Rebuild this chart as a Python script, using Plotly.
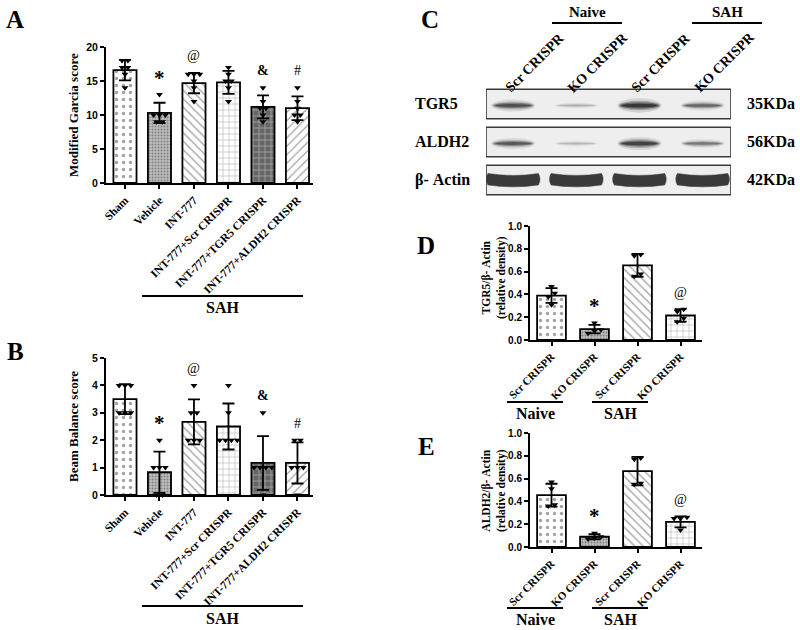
import plotly.graph_objects as go

SERIF = "Liberation Serif, Times New Roman, serif"
SANS = "Liberation Sans, Arial, sans-serif"

# ---- panel A / B data (n = 6 per group)
groups_ab = ["Sham", "Vehicle", "INT-777", "INT-777+Scr CRISPR",
             "INT-777+TGR5 CRISPR", "INT-777+ALDH2 CRISPR"]
garcia_mean = [16.6, 10.3, 14.7, 14.8, 11.2, 11.0]
garcia_sd = [1.5, 1.5, 1.5, 1.7, 1.7, 1.75]
garcia_pts = [[18, 18, 17, 17, 16, 14], [13, 10, 10, 10, 9, 9], [16, 16, 16, 15, 14, 12],
              [17, 16, 15, 15, 14, 12], [14, 12, 11, 11, 10, 9], [14, 12, 11, 10, 10, 9]]
garcia_sig = ["", "*", "@", "", "&", "#"]

beam_mean = [3.5, 0.83, 2.67, 2.5, 1.17, 1.17]
beam_sd = [0.55, 0.75, 0.82, 0.84, 0.98, 0.75]
beam_pts = [[4, 4, 4, 3, 3, 3], [2, 1, 1, 1, 0, 0], [4, 3, 3, 2, 2, 2],
            [4, 3, 2, 2, 2, 2], [3, 1, 1, 1, 1, 0], [2, 2, 1, 1, 1, 0]]
beam_sig = ["", "*", "@", "", "&", "#"]

# ---- panel C/D/E data (n = 4 per group)
lanes = ["Scr CRISPR", "KO CRISPR", "Scr CRISPR", "KO CRISPR"]
lane_groups = ["Naive", "SAH"]
tgr5_mean = [0.39, 0.095, 0.655, 0.215]
tgr5_sd = [0.065, 0.037, 0.10, 0.055]
tgr5_pts = [[0.47, 0.41, 0.38, 0.31], [0.15, 0.09, 0.08, 0.06],
            [0.75, 0.74, 0.58, 0.56], [0.27, 0.25, 0.19, 0.16]]
tgr5_sig = ["", "*", "", "@"]

aldh2_mean = [0.455, 0.09, 0.665, 0.22]
aldh2_sd = [0.10, 0.022, 0.125, 0.048]
aldh2_pts = [[0.57, 0.51, 0.37, 0.36], [0.12, 0.09, 0.08, 0.07],
             [0.78, 0.77, 0.56, 0.55], [0.26, 0.25, 0.25, 0.15]]
aldh2_sig = ["", "*", "", "@"]

blot_rows = ["TGR5", "ALDH2", "β- Actin"]
blot_kda = ["35KDa", "56KDa", "42KDa"]
band_intensity = [[0.78, 0.22, 1.0, 0.6],
                  [0.7, 0.2, 0.88, 0.5],
                  [1.0, 1.0, 1.0, 1.0]]


def px(x):
    return x / 800


def py(y):
    return 1 - y / 630


def spread(vals, step, tol):
    # simple beeswarm: points with about the same value get pushed sideways
    order = sorted(range(len(vals)), key=lambda k: vals[k])
    offs = [0.0] * len(vals)
    clusters = []
    for k in order:
        if clusters and abs(vals[k] - vals[clusters[-1][0]]) <= tol:
            clusters[-1].append(k)
        else:
            clusters.append([k])
    for c in clusters:
        n = len(c)
        for j, k in enumerate(c):
            offs[k] = (j - (n - 1) / 2) * step
    return offs


# bar fills
pat_ab = dict(shape=[".", ".", "\\", "+", "+", "/"],
              fgcolor=["#333333", "#6a6a6a", "#222222", "#d0d0d0", "#dcdcdc", "#8a8a8a"],
              bgcolor=["white", "#bdbdbd", "white", "white", "#666666", "white"],
              size=[7, 3, 6, 6, 6, 6],
              solidity=[0.18, 0.35, 0.22, 0.15, 0.2, 0.2])
pat_de = dict(shape=[".", ".", "\\", "+"],
              fgcolor=["#333333", "#6a6a6a", "#222222", "#d0d0d0"],
              bgcolor=["white", "#bdbdbd", "white", "white"],
              size=[7, 3, 6, 6],
              solidity=[0.18, 0.35, 0.22, 0.15])

fig = go.Figure()
annos = []
shapes = []


def add_panel(xa, ya, means, sds, pts, sig, pat, step, tol, sig_shift):
    n = len(means)
    fig.add_trace(go.Bar(
        x=list(range(n)), y=means, xaxis=xa, yaxis=ya, showlegend=False,
        marker=dict(color=pat["bgcolor"], line=dict(color="black", width=1.8),
                    pattern=dict(shape=pat["shape"], fgcolor=pat["fgcolor"],
                                 bgcolor=pat["bgcolor"], size=pat["size"],
                                 solidity=pat["solidity"], fillmode="overlay")),
        error_y=dict(type="data", array=sds, visible=True, color="black",
                     thickness=1.8, width=6)))
    xs, ys = [], []
    for i, p in enumerate(pts):
        for o, v in zip(spread(p, step, tol), p):
            xs.append(i + o)
            ys.append(v)
    fig.add_trace(go.Scatter(
        x=xs, y=ys, xaxis=xa, yaxis=ya, mode="markers", showlegend=False,
        cliponaxis=False,
        marker=dict(symbol="triangle-down", size=6, color="black")))
    for i, s in enumerate(sig):
        if not s:
            continue
        top = max(max(pts[i]), means[i] + sds[i])
        big = s == "*"
        annos.append(dict(x=i, y=top, xref=xa, yref=ya,
                          text=s, showarrow=False, xanchor="center", yanchor="middle",
                          yshift=sig_shift,
                          font=dict(family=SERIF, size=21 if big else 14,
                                    color="black",
                                    weight="bold" if s in "*&" else "normal")))


add_panel("x", "y", garcia_mean, garcia_sd, garcia_pts, garcia_sig, pat_ab, 0.17, 0.3, 17)
add_panel("x2", "y2", beam_mean, beam_sd, beam_pts, beam_sig, pat_ab, 0.17, 0.1, 17)
add_panel("x3", "y3", tgr5_mean, tgr5_sd, tgr5_pts, tgr5_sig, pat_de, 0.15, 0.03, 17)
add_panel("x4", "y4", aldh2_mean, aldh2_sd, aldh2_pts, aldh2_sig, pat_de, 0.15, 0.03, 17)

# invisible trace so the blot axes exist
fig.add_trace(go.Scatter(x=list(range(len(lanes))), y=[0] * len(lanes), xaxis="x5", yaxis="y5",
                         mode="markers", marker=dict(opacity=0), hoverinfo="skip",
                         showlegend=False))


def xax(domain, labels, rng, size):
    return dict(domain=domain, range=rng, tickvals=list(range(len(labels))), ticktext=labels,
                tickangle=-45, showline=True, linecolor="black", linewidth=2,
                ticks="outside", ticklen=4, tickwidth=1.5, tickcolor="black",
                showgrid=False, zeroline=False, automargin=False,
                tickfont=dict(family=SERIF, size=size, color="black", weight="bold"))


def yax(domain, rng, dtick, fmt, size):
    return dict(domain=domain, range=rng, dtick=dtick, tickformat=fmt,
                showline=True, linecolor="black", linewidth=2,
                ticks="outside", ticklen=4, tickwidth=1.5, tickcolor="black",
                showgrid=False, zeroline=False, automargin=False,
                tickfont=dict(family=SANS, size=size, color="black", weight="bold"))


fig.update_layout(
    xaxis=dict(xax([px(106), px(313)], groups_ab, [-0.55, 5.45], 11.5), anchor="y"),
    yaxis=dict(yax([py(183), py(47)], [0, 20], 5, "d", 10.5), anchor="x"),
    xaxis2=dict(xax([px(106), px(313)], groups_ab, [-0.55, 5.45], 11.5), anchor="y2"),
    yaxis2=dict(yax([py(495), py(358)], [0, 5], 1, "d", 10.5), anchor="x2"),
    xaxis3=dict(xax([px(530), px(702)], lanes, [-0.5, 3.5], 11), anchor="y3"),
    yaxis3=dict(yax([py(340), py(226)], [0, 1], 0.2, ".1f", 10), anchor="x3"),
    xaxis4=dict(xax([px(530), px(702)], lanes, [-0.5, 3.5], 11), anchor="y4"),
    yaxis4=dict(yax([py(547), py(433)], [0, 1], 0.2, ".1f", 10), anchor="x4"),
    xaxis5=dict(domain=[px(486), px(731)], range=[-0.43, 3.45], visible=False, anchor="y5"),
    yaxis5=dict(domain=[py(199), py(85)], range=[2.5, -0.5], visible=False, anchor="x5"),
)

# ---- western blot (panel C)
for r, row in enumerate(blot_rows):
    shapes.append(dict(type="rect", xref="x5", yref="y5", x0=-0.43, x1=3.45,
                       y0=r - 0.39, y1=r + 0.39, fillcolor="#eeeeee",
                       line=dict(color="#3a3a3a", width=1.6), layer="below"))
    for l, inten in enumerate(band_intensity[r]):
        if row.startswith("β"):
            hw, top, bot, sag = 0.4, r - 0.17, r + 0.13, 0.05
            path = (f"M {l - hw},{top} Q {l},{top + 2 * sag} {l + hw},{top} "
                    f"Q {l + hw + 0.05},{(top + bot) / 2} {l + hw},{bot} "
                    f"Q {l},{bot + 2 * sag} {l - hw},{bot} "
                    f"Q {l - hw - 0.05},{(top + bot) / 2} {l - hw},{top} Z")
            shapes.append(dict(type="path", xref="x5", yref="y5", path=path,
                               fillcolor=f"rgba(42,42,42,{0.92 * inten:.2f})",
                               line=dict(color="rgba(60,60,60,0.5)", width=1)))
        else:
            hw = 0.33
            hh = (1.2 + 2.8 * inten) / 38
            for sw, sh, a in [(1.06, 1.8, 0.12), (1.0, 1.2, 0.25), (0.94, 0.8, 0.45), (0.85, 0.45, 0.6)]:
                shapes.append(dict(type="circle", xref="x5", yref="y5",
                                   x0=l - hw * sw, x1=l + hw * sw,
                                   y0=r + 0.04 - hh * sh, y1=r + 0.04 + hh * sh,
                                   fillcolor=f"rgba(25,25,25,{a * inten:.3f})",
                                   line=dict(width=0)))
    annos.append(dict(x=px(413), xref="paper", y=r, yref="y5", text=row, showarrow=False,
                      xanchor="left", yanchor="middle",
                      font=dict(family=SERIF, size=16, color="black", weight="bold")))
    annos.append(dict(x=px(745), xref="paper", y=r, yref="y5", text=blot_kda[r], showarrow=False,
                      xanchor="left", yanchor="middle",
                      font=dict(family=SERIF, size=16, color="black", weight="bold")))

for l, lab in enumerate(lanes):
    annos.append(dict(x=l, xref="x5", y=py(63), yref="paper", text=lab, showarrow=False,
                      textangle=-45, xshift=22, xanchor="center", yanchor="middle",
                      font=dict(family=SERIF, size=14, color="black", weight="bold")))


def group_line(x0, x1, y, label, ty, size):
    shapes.append(dict(type="line", xref="paper", yref="paper", x0=px(x0), x1=px(x1),
                       y0=py(y), y1=py(y), line=dict(color="black", width=2)))
    annos.append(dict(x=px((x0 + x1) / 2), y=py(ty), xref="paper", yref="paper", text=label,
                      showarrow=False, xanchor="center", yanchor="middle",
                      font=dict(family=SERIF, size=size, color="black", weight="bold")))


group_line(552, 622, 23, lane_groups[0], 12, 15)
group_line(692, 762, 23, lane_groups[1], 12, 15)
group_line(142, 303, 296, "SAH", 307, 16)
group_line(142, 303, 606, "SAH", 618, 16)
group_line(507, 563, 402, lane_groups[0], 413, 16)
group_line(592, 648, 402, lane_groups[1], 413, 16)
group_line(507, 563, 608, lane_groups[0], 619, 16)
group_line(592, 648, 608, lane_groups[1], 619, 16)

# axis titles
for x, y, t, s in [(73, 115, "Modified Garcia score", 13),
                   (73, 427, "Beam Balance score", 13),
                   (494, 278, "TGR5/β- Actin<br>(relative density)", 11.5),
                   (494, 491, "ALDH2/β- Actin<br>(relative density)", 11.5)]:
    annos.append(dict(x=px(x), y=py(y), xref="paper", yref="paper", text=t, textangle=-90,
                      showarrow=False, xanchor="center", yanchor="middle",
                      font=dict(family=SERIF, size=s, color="black", weight="bold")))

# panel letters
for t, x, y in [("A", 15, 19), ("B", 15, 351), ("C", 430, 19), ("D", 426, 246), ("E", 426, 446)]:
    annos.append(dict(x=px(x), y=py(y), xref="paper", yref="paper", text=t, showarrow=False,
                      xanchor="center", yanchor="middle",
                      font=dict(family=SERIF, size=25, color="black", weight="bold")))

fig.update_layout(width=800, height=630, autosize=False,
                  margin=dict(l=0, r=0, t=0, b=0, pad=0, autoexpand=False),
                  paper_bgcolor="white", plot_bgcolor="white",
                  bargap=0.33, annotations=annos, shapes=shapes)

# page body has a default 8px margin; drop it so the figure sits at the corner
fig.write_html("out.html", config={"displayModeBar": False},
               post_script="document.body.style.margin='0';")
